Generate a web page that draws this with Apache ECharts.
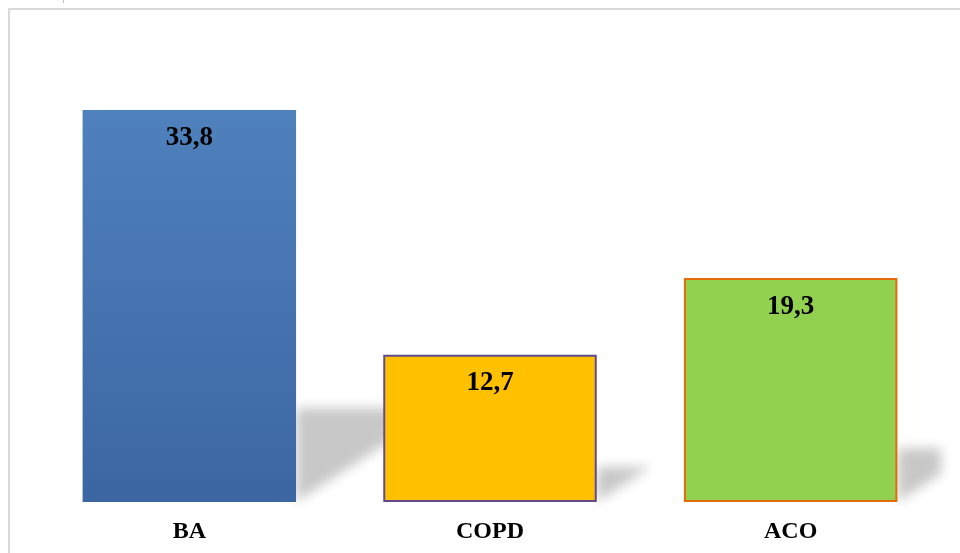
<!DOCTYPE html>
<html>
<head>
<meta charset="utf-8">
<script src="https://cdn.jsdelivr.net/npm/echarts@6/dist/echarts.min.js"></script>
<style>
  html, body { margin: 0; padding: 0; background: #fff; }
  #chart { width: 960px; height: 553px; }
</style>
</head>
<body>
<div id="chart"></div>
<script>
// Prevalence by diagnosis group
const categories = ['BA', 'COPD', 'ACO'];
const values = [33.8, 12.7, 19.3];
const labels = ['33,8', '12,7', '19,3'];

const SERIF = '"Liberation Serif", "Times New Roman", serif';
const BAR_FRAC = 0.71;

const chart = echarts.init(document.getElementById('chart'), null, { renderer: 'canvas' });

const barStyles = [
  {
    color: new echarts.graphic.LinearGradient(0, 0, 0, 1, [
      { offset: 0, color: '#4f81bd' },
      { offset: 1, color: '#3c66a1' }
    ]),
    borderWidth: 0
  },
  { color: '#ffc000', borderColor: '#604a8b', borderWidth: 2 },
  { color: '#92d050', borderColor: '#e46c0a', borderWidth: 2 }
];

// Soft cast shadow behind each bar, derived from the bar's own geometry
function renderShadow(params, api) {
  const idx = api.value(0);
  const v = api.value(1);
  const base = api.coord([idx, 0]);
  const top = api.coord([idx, v]);
  const bw = api.size([1, 0])[0] * BAR_FRAC;
  const xr = base[0] + bw / 2;
  const h = (base[1] - top[1]) * 0.24;
  const slope = 0.65;
  const w = h / slope;
  const gR = params.coordSys.x + params.coordSys.width;
  let pts;
  if (xr + w > gR) {
    const cw = gR - xr;
    pts = [[xr, base[1]], [xr, base[1] - h], [gR, base[1] - h], [gR, base[1] - cw * slope]];
  } else {
    pts = [[xr, base[1]], [xr, base[1] - h], [xr + w, base[1] - h]];
  }
  const OFF = 3000;
  return {
    type: 'polygon',
    shape: { points: pts.map(p => [p[0] - OFF, p[1]]) },
    style: {
      fill: '#000',
      shadowColor: 'rgba(0,0,0,0.22)',
      shadowBlur: 12,
      shadowOffsetX: OFF,
      shadowOffsetY: 0
    },
    z2: 0
  };
}

chart.setOption({
  animation: false,
  backgroundColor: '#fff',
  grid: { left: 39, right: 19, top: 38, bottom: 51, containLabel: false },
  xAxis: {
    type: 'category',
    data: categories,
    axisLine: { show: false },
    axisTick: { show: false },
    splitLine: { show: false },
    axisLabel: {
      margin: 18,
      fontFamily: SERIF,
      fontWeight: 'bold',
      fontSize: 24,
      color: '#000'
    }
  },
  yAxis: {
    type: 'value',
    min: 0,
    max: 40,
    show: false,
    splitLine: { show: false }
  },
  graphic: [
    {
      type: 'rect',
      shape: { x: 9, y: 9, width: 980, height: 600 },
      style: { fill: 'none', stroke: '#d9d9d9', lineWidth: 2 },
      silent: true,
      z: -10
    },
    {
      type: 'line',
      shape: { x1: 63.5, y1: 0, x2: 63.5, y2: 3 },
      style: { stroke: '#bfbfbf', lineWidth: 1 },
      silent: true
    }
  ],
  series: [
    {
      type: 'custom',
      renderItem: renderShadow,
      data: values.map((v, i) => [i, v]),
      encode: { x: 0, y: 1 },
      z: 1,
      silent: true
    },
    {
      type: 'bar',
      barWidth: (BAR_FRAC * 100) + '%',
      z: 2,
      data: values.map((v, i) => ({ value: v, itemStyle: barStyles[i] })),
      label: {
        show: true,
        position: 'insideTop',
        distance: 15,
        formatter: p => labels[p.dataIndex],
        fontFamily: SERIF,
        fontWeight: 'bold',
        fontSize: 27,
        color: '#000'
      }
    }
  ]
});
</script>
</body>
</html>
